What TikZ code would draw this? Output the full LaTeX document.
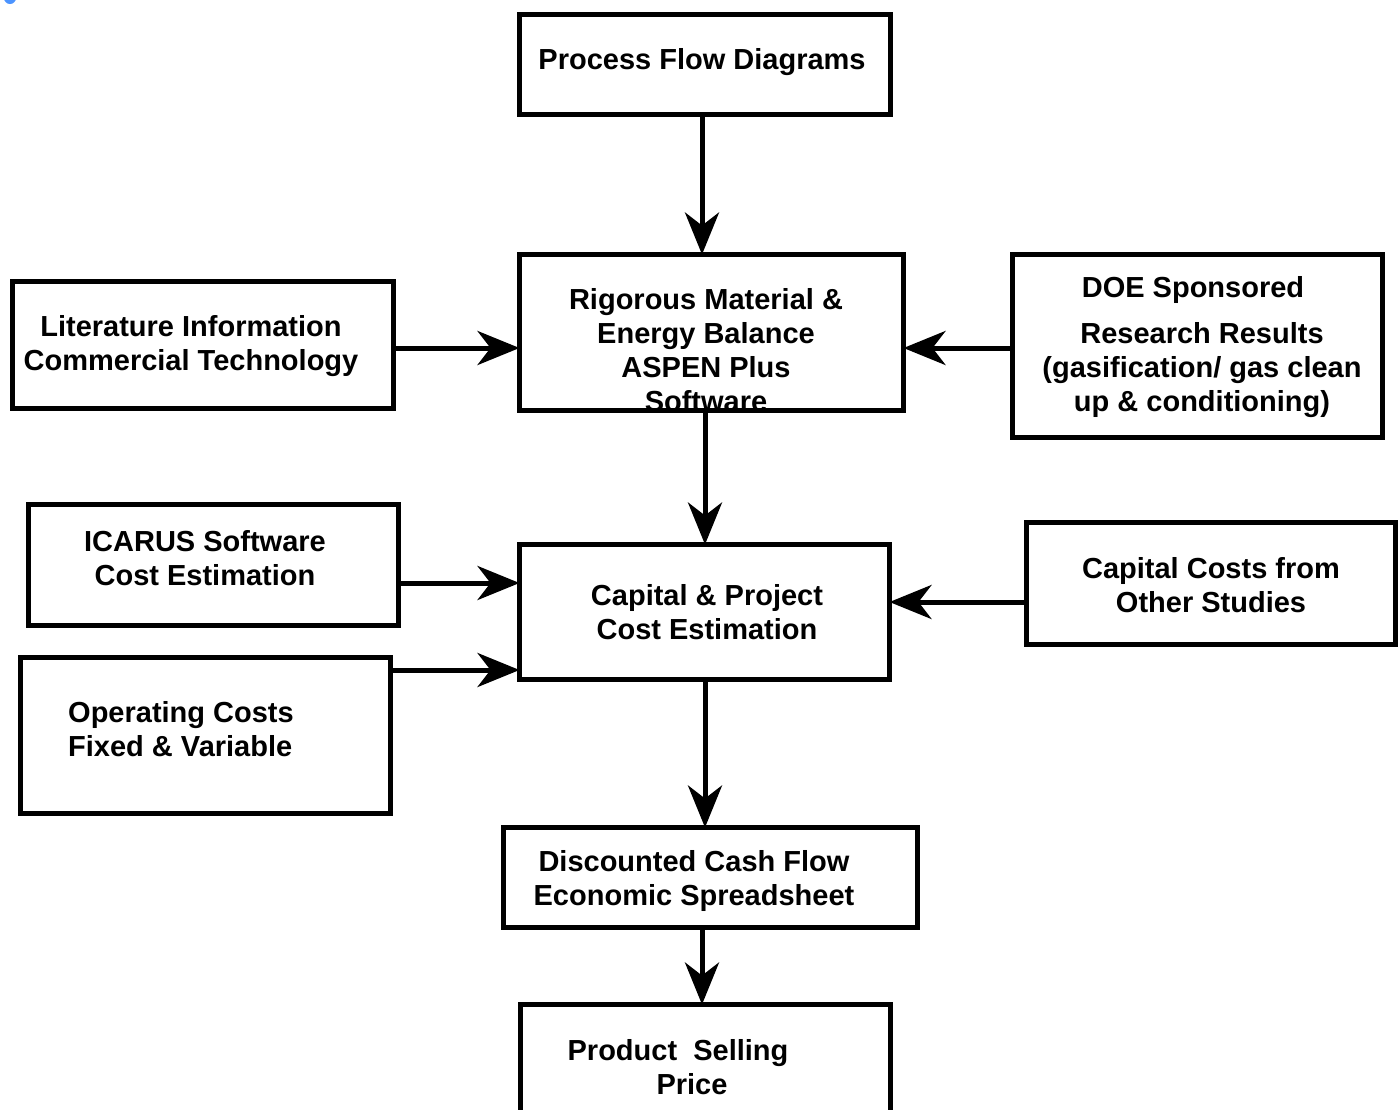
\documentclass[tikz,border=0pt]{standalone}
\usepackage{fontspec}
\setmainfont{Liberation Sans}
\usetikzlibrary{arrows.meta}
\begin{document}
\begin{tikzpicture}[x=1pt,y=-1pt,
  box/.style={draw=black,line width=5pt,fill=white,rectangle,inner sep=0pt,outer sep=0pt},
  txt/.style={font=\fontsize{29}{34}\selectfont\bfseries,align=center,inner sep=0pt},
  arr/.style={line width=5pt,-{Stealth[length=42pt,width=34pt,inset=13pt]}}]
\useasboundingbox (0,0) rectangle (1399,1109);
\fill[blue!60!cyan!70!white] (10,-2) circle (6);
% boxes
\node[box,minimum width=371pt,minimum height=100pt] (pfd) at (705,64.5) {};
\node[box,minimum width=384pt,minimum height=156pt] (rig) at (711.5,332.5) {};
\node[box,minimum width=381pt,minimum height=127pt] (lit) at (203,345) {};
\node[box,minimum width=370pt,minimum height=183pt] (doe) at (1197.5,346) {};
\node[box,minimum width=370pt,minimum height=121pt] (ica) at (213.5,565) {};
\node[box,minimum width=370pt,minimum height=135pt] (cap) at (704.5,612) {};
\node[box,minimum width=369pt,minimum height=122pt] (ccs) at (1211,583.5) {};
\node[box,minimum width=370pt,minimum height=156pt] (ope) at (205.5,735.5) {};
\node[box,minimum width=414pt,minimum height=100pt] (dcf) at (710.5,877.5) {};
\node[box,minimum width=370pt,minimum height=115pt] (prd) at (705.5,1062) {};
% texts
\node[txt] (tpfd) at (702,62) {Process Flow Diagrams};
\node[txt] (trig) at (706,350) {Rigorous Material \&\\Energy Balance\\ASPEN Plus\\Software};
\node[txt] (tlit) at (191,346) {Literature Information\\Commercial Technology};
\node[txt] (tdoe) at (1202,347) {DOE Sponsored\hspace*{18pt}\\[12pt]Research Results\\(gasification/ gas clean\\up \& conditioning)};
\node[txt] (tica) at (205,558) {ICARUS Software\\Cost Estimation};
\node[txt] (tcap) at (707,612) {Capital \& Project\\Cost Estimation};
\node[txt] (tccs) at (1211,585) {Capital Costs from\\Other Studies};
\node[txt,align=left,anchor=west] (tope) at (68,729) {Operating Costs\\Fixed \& Variable};
\node[txt] (tdcf) at (694,881) {Discounted Cash Flow\\Economic Spreadsheet};
\node[txt] (tprd) at (685,1067) {Product\ \ Selling\hspace*{14pt}\\\hspace*{14pt}Price};
% reference coordinates
\coordinate (xa) at (702,0);
\coordinate (xb) at (705,0);
\coordinate (ya) at (0,348);
\coordinate (yb) at (0,583);
\coordinate (yc) at (0,670);
\coordinate (yd) at (0,602);
% arrows
\draw[arr] (pfd.south -| xa) -- (rig.north -| xa);
\draw[arr] (lit.east |- ya) -- (rig.west |- ya);
\draw[arr] (doe.west |- ya) -- (rig.east |- ya);
\draw[arr] (rig.south -| xb) -- (cap.north -| xb);
\draw[arr] (ica.east |- yb) -- (cap.west |- yb);
\draw[arr] (ope.east |- yc) -- (cap.west |- yc);
\draw[arr] (ccs.west |- yd) -- (cap.east |- yd);
\draw[arr] (cap.south -| xb) -- (dcf.north -| xb);
\draw[arr] (dcf.south -| xa) -- (prd.north -| xa);
\end{tikzpicture}
\end{document}
